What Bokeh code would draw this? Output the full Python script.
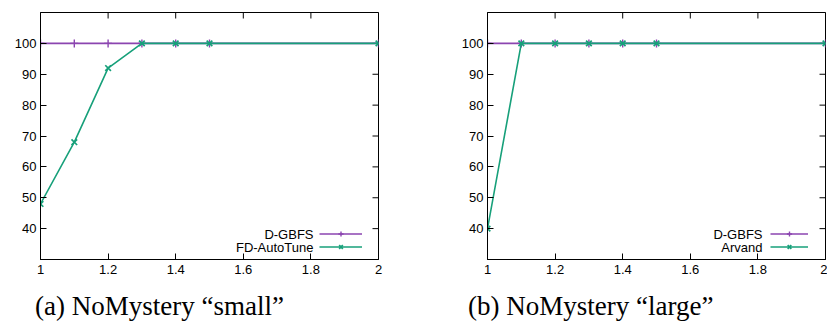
from bokeh.plotting import figure
from bokeh.models import Range1d, FixedTicker, Legend, LegendItem, Label, Div
from bokeh.layouts import row, column
from bokeh.embed import file_html
from bokeh.resources import INLINE
import math

# ---- data ----
x_vals = [1, 1.1, 1.2, 1.3, 1.4, 1.5, 2]
dgbfs_small = [100, 100, 100, 100, 100, 100, 100]
fd_autotune = [48, 68, 92, 100, 100, 100, 100]
dgbfs_large = [100, 100, 100, 100, 100, 100, 100]
arvand = [40, 100, 100, 100, 100, 100, 100]

x_ticks = [1, 1.2, 1.4, 1.6, 1.8, 2]
x_tick_labels = ["1", "1.2", "1.4", "1.6", "1.8", "2"]
y_ticks = [40, 50, 60, 70, 80, 90, 100]
y_tick_labels = ["40", "50", "60", "70", "80", "90", "100"]
x_min, x_max = 1, 2
y_min, y_max = 30, 110

captions = ["(a) NoMystery \u201csmall\u201d", "(b) NoMystery \u201clarge\u201d"]
names_small = ["D-GBFS", "FD-AutoTune"]
names_large = ["D-GBFS", "Arvand"]

PURPLE = "#8b45b0"
GREEN = "#17a07a"
SANS = "Liberation Sans"


def make_fig(width, border_left, border_right, ya, yb, names, text_x, leg_x, glyph_w):
    p = figure(width=width, height=283, output_backend="svg", toolbar_location=None,
               x_range=Range1d(x_min, x_max), y_range=Range1d(y_min, y_max),
               min_border_left=border_left, min_border_right=border_right,
               min_border_top=12, min_border_bottom=24)
    p.xgrid.visible = False
    p.ygrid.visible = False
    p.outline_line_color = "black"
    p.outline_line_width = 1
    p.background_fill_color = "white"
    p.border_fill_color = "white"

    p.xaxis.ticker = FixedTicker(ticks=x_ticks)
    p.xaxis.major_label_overrides = dict(zip(x_ticks, x_tick_labels))
    p.yaxis.ticker = FixedTicker(ticks=y_ticks)
    p.yaxis.major_label_overrides = dict(zip(y_ticks, y_tick_labels))
    for ax in (p.xaxis[0], p.yaxis[0]):
        ax.major_tick_in = 6
        ax.major_tick_out = 0
        ax.minor_tick_line_color = None
        ax.axis_line_color = "black"
        ax.major_tick_line_color = "black"
        ax.major_label_text_font = SANS
        ax.major_label_text_font_size = "13px"
        ax.major_label_text_color = "black"
    p.xaxis.major_label_standoff = 5
    p.yaxis.major_label_standoff = 4

    # mirrored ticks on the top and right frame edges (half-clipped dashes)
    p.scatter(x_ticks, [y_max] * len(x_ticks), marker="dash", angle=math.pi / 2,
              size=12, line_color="black", line_width=1)
    p.scatter([x_max] * len(y_ticks), y_ticks, marker="dash", angle=0,
              size=12, line_color="black", line_width=1)

    l1 = p.line(x_vals, ya, line_color=PURPLE, line_width=1.6)
    s1 = p.scatter(x_vals, ya, marker="cross", size=8, line_color=PURPLE, line_width=1.4)
    l2 = p.line(x_vals, yb, line_color=GREEN, line_width=1.6)
    s2 = p.scatter(x_vals, yb, marker="x", size=8, line_color=GREEN, line_width=1.7)

    # legend samples (glyphs only); the texts are drawn to their left, gnuplot-style
    legend = Legend(items=[LegendItem(label=" ", renderers=[l1, s1]),
                           LegendItem(label=" ", renderers=[l2, s2])],
                    location=(leg_x, 6), glyph_width=glyph_w, glyph_height=13,
                    label_height=13, label_width=0, label_standoff=0,
                    spacing=0, padding=0, margin=0, border_line_color=None,
                    background_fill_alpha=0, label_text_font=SANS,
                    label_text_font_size="12px")
    p.add_layout(legend)
    for i, nm in enumerate(names):
        p.add_layout(Label(x=text_x, y=25.5 - 13 * i, x_units="screen", y_units="screen",
                           text=nm, text_align="right", text_baseline="middle",
                           text_font=SANS, text_font_size="13px", text_color="black"))
    return p


p1 = make_fig(447, 40, 69, dgbfs_small, fd_autotune, names_small, 273, 279, 43)
p2 = make_fig(380, 40, 2, dgbfs_large, arvand, names_large, 275, 283, 38)

base_style = {"font-family": "Liberation Serif", "font-size": "27px", "line-height": "26px",
              "text-align": "left", "color": "black", "white-space": "nowrap"}
d1 = Div(text=captions[0], height=26, margin=(10, 0, 0, 0),
         styles=dict(base_style, **{"padding-left": "35px"}))
d2 = Div(text=captions[1], height=26, margin=(10, 0, 0, 0),
         styles=dict(base_style, **{"padding-left": "21px"}))

layout = row(column(p1, d1), column(p2, d2))

open("out.html", "w").write(file_html(layout, INLINE))
